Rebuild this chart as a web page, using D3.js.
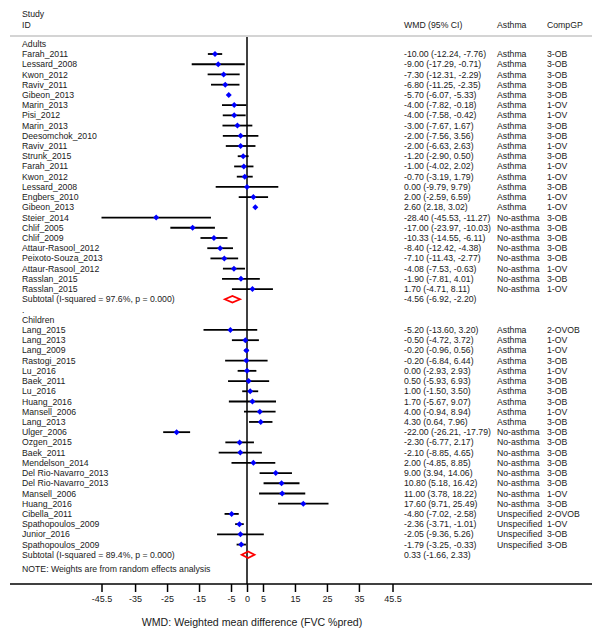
<!DOCTYPE html>
<html>
<head>
<meta charset="utf-8">
<script src="https://cdn.jsdelivr.net/npm/d3@7"></script>
<style>
  body { margin: 0; background: #fff; }
  svg { font-family: "Liberation Sans", Arial, Helvetica, sans-serif; }
  text { fill: #1a1a1a; font-size: 8.7px; }
</style>
</head>
<body>
<div id="root"></div>
<script>
// adults
const adultStudies = ['Farah_2011', 'Lessard_2008', 'Kwon_2012', 'Raviv_2011', 'Gibeon_2013', 'Marin_2013', 'Pisi_2012', 'Marin_2013', 'Deesomchok_2010', 'Raviv_2011', 'Strunk_2015', 'Farah_2011', 'Kwon_2012', 'Lessard_2008', 'Engbers_2010', 'Gibeon_2013', 'Steier_2014', 'Chlif_2005', 'Chlif_2009', 'Attaur-Rasool_2012', 'Peixoto-Souza_2013', 'Attaur-Rasool_2012', 'Rasslan_2015', 'Rasslan_2015'];
const adultWmd = [-10.00, -9.00, -7.30, -6.80, -5.70, -4.00, -4.00, -3.00, -2.00, -2.00, -1.20, -1.00, -0.70, 0.00, 2.00, 2.60, -28.40, -17.00, -10.33, -8.40, -7.10, -4.08, -1.90, 1.70];
const adultLo = [-12.24, -17.29, -12.31, -11.25, -6.07, -7.82, -7.58, -7.67, -7.56, -6.63, -2.90, -4.02, -3.19, -9.79, -2.59, 2.18, -45.53, -23.97, -14.55, -12.42, -11.43, -7.53, -7.81, -4.71];
const adultHi = [-7.76, -0.71, -2.29, -2.35, -5.33, -0.18, -0.42, 1.67, 3.56, 2.63, 0.50, 2.02, 1.79, 9.79, 6.59, 3.02, -11.27, -10.03, -6.11, -4.38, -2.77, -0.63, 4.01, 8.11];
const adultAsthma = ['Asthma', 'Asthma', 'Asthma', 'Asthma', 'Asthma', 'Asthma', 'Asthma', 'Asthma', 'Asthma', 'Asthma', 'Asthma', 'Asthma', 'Asthma', 'Asthma', 'Asthma', 'Asthma', 'No-asthma', 'No-asthma', 'No-asthma', 'No-asthma', 'No-asthma', 'No-asthma', 'No-asthma', 'No-asthma'];
const adultGroup = ['3-OB', '3-OB', '3-OB', '3-OB', '3-OB', '1-OV', '1-OV', '3-OB', '3-OB', '1-OV', '3-OB', '1-OV', '1-OV', '3-OB', '1-OV', '1-OV', '3-OB', '3-OB', '3-OB', '3-OB', '3-OB', '1-OV', '3-OB', '1-OV'];

// children
const childStudies = ['Lang_2015', 'Lang_2013', 'Lang_2009', 'Rastogi_2015', 'Lu_2016', 'Baek_2011', 'Lu_2016', 'Huang_2016', 'Mansell_2006', 'Lang_2013', 'Ulger_2006', 'Ozgen_2015', 'Baek_2011', 'Mendelson_2014', 'Del Rio-Navarro_2013', 'Del Rio-Navarro_2013', 'Mansell_2006', 'Huang_2016', 'Cibella_2011', 'Spathopoulos_2009', 'Junior_2016', 'Spathopoulos_2009'];
const childWmd = [-5.20, -0.50, -0.20, -0.20, 0.00, 0.50, 1.00, 1.70, 4.00, 4.30, -22.00, -2.30, -2.10, 2.00, 9.00, 10.80, 11.00, 17.60, -4.80, -2.36, -2.05, -1.79];
const childLo = [-13.60, -4.72, -0.96, -6.84, -2.93, -5.93, -1.50, -5.67, -0.94, 0.64, -26.21, -6.77, -8.85, -4.85, 3.94, 5.18, 3.78, 9.71, -7.02, -3.71, -9.36, -3.25];
const childHi = [3.20, 3.72, 0.56, 6.44, 2.93, 6.93, 3.50, 9.07, 8.94, 7.96, -17.79, 2.17, 4.65, 8.85, 14.06, 16.42, 18.22, 25.49, -2.58, -1.01, 5.26, -0.33];
const childAsthma = ['Asthma', 'Asthma', 'Asthma', 'Asthma', 'Asthma', 'Asthma', 'Asthma', 'Asthma', 'Asthma', 'Asthma', 'No-asthma', 'No-asthma', 'No-asthma', 'No-asthma', 'No-asthma', 'No-asthma', 'No-asthma', 'No-asthma', 'Unspecified', 'Unspecified', 'Unspecified', 'Unspecified'];
const childGroup = ['2-OVOB', '1-OV', '1-OV', '3-OB', '1-OV', '3-OB', '3-OB', '3-OB', '1-OV', '3-OB', '3-OB', '3-OB', '3-OB', '3-OB', '3-OB', '3-OB', '1-OV', '3-OB', '2-OVOB', '1-OV', '3-OB', '3-OB'];

// subtotals: adults, children
const subLabels = ['Subtotal  (I-squared = 97.6%, p = 0.000)', 'Subtotal  (I-squared = 89.4%, p = 0.000)'];
const subWmd = [-4.56, 0.33];
const subLo = [-6.92, -1.66];
const subHi = [-2.20, 2.33];

const tickValues = [-45.5, -35, -25, -15, -5, 0, 5, 15, 25, 35, 45.5];

const W = 602, H = 637;
const svg = d3.select('#root').append('svg').attr('width', W).attr('height', H);

// build rows list
let rows = [];
rows.push({ type: 'head', label: 'Adults' });
adultStudies.forEach((s, i) => rows.push({ type: 'study', label: s, est: adultWmd[i], lo: adultLo[i], hi: adultHi[i], a: adultAsthma[i], g: adultGroup[i] }));
rows.push({ type: 'sub', label: subLabels[0], est: subWmd[0], lo: subLo[0], hi: subHi[0] });
rows.push({ type: 'head', label: '.' });
rows.push({ type: 'head', label: 'Children' });
childStudies.forEach((s, i) => rows.push({ type: 'study', label: s, est: childWmd[i], lo: childLo[i], hi: childHi[i], a: childAsthma[i], g: childGroup[i] }));
rows.push({ type: 'sub', label: subLabels[1], est: subWmd[1], lo: subLo[1], hi: subHi[1] });
rows.forEach((r, i) => r.i = i);

const x = d3.scaleLinear().domain([-45.5, 45.5]).range([101.5, 392.5]);
const y = d3.scaleLinear().domain([0, rows.length - 1]).range([43.8, 43.8 + (rows.length - 1) * 10.22]);
// plain hyphen for negatives, as in the original
const loc = d3.formatLocale({ decimal: '.', thousands: ',', grouping: [3], currency: ['', ''], minus: '-' });
const fmt = loc.format('.2f');

const colCI = 404, colA = 497, colG = 547, colL = 22;

// header
svg.append('text').attr('x', colL).attr('y', 17).text('Study');
svg.append('text').attr('x', colL).attr('y', 27.5).text('ID');
svg.append('text').attr('x', colCI).attr('y', 27.5).text('WMD (95% CI)');
svg.append('text').attr('x', colA).attr('y', 27.5).text('Asthma');
svg.append('text').attr('x', colG).attr('y', 27.5).text('CompGP');
svg.append('line').attr('x1', 10).attr('x2', 592).attr('y1', 36).attr('y2', 36)
  .attr('stroke', '#aaa').attr('stroke-width', 1.2);

// null line
svg.append('line').attr('x1', x(0)).attr('x2', x(0)).attr('y1', 37).attr('y2', 584)
  .attr('stroke', '#000').attr('stroke-width', 1.5);

// labels
svg.selectAll('text.lab').data(rows).enter().append('text')
  .attr('class', 'lab')
  .attr('x', colL)
  .attr('y', d => y(d.i))
  .attr('dy', '0.35em')
  .text(d => d.label);

const est = rows.filter(d => d.type !== 'head');
svg.selectAll('text.ci').data(est).enter().append('text')
  .attr('x', colCI).attr('y', d => y(d.i)).attr('dy', '0.35em')
  .text(d => `${fmt(d.est)} (${fmt(d.lo)}, ${fmt(d.hi)})`);

const studies = rows.filter(d => d.type === 'study');
svg.selectAll('text.as').data(studies).enter().append('text')
  .attr('x', colA).attr('y', d => y(d.i)).attr('dy', '0.35em').text(d => d.a);
svg.selectAll('text.gp').data(studies).enter().append('text')
  .attr('x', colG).attr('y', d => y(d.i)).attr('dy', '0.35em').text(d => d.g);

// CI lines
svg.selectAll('line.ci').data(studies).enter().append('line')
  .attr('x1', d => x(Math.max(d.lo, -45.5))).attr('x2', d => x(Math.min(d.hi, 45.5)))
  .attr('y1', d => y(d.i)).attr('y2', d => y(d.i))
  .attr('stroke', '#000').attr('stroke-width', 1.8);

// point estimates
svg.selectAll('path.pt').data(studies).enter().append('path')
  .attr('d', d => {
    const cx = x(d.est), cy = y(d.i), r = 3;
    return `M${cx},${cy - r}L${cx + r},${cy}L${cx},${cy + r}L${cx - r},${cy}Z`;
  })
  .attr('fill', '#0000ff');

// subtotal diamonds
const subs = rows.filter(d => d.type === 'sub');
svg.selectAll('path.sub').data(subs).enter().append('path')
  .attr('d', d => {
    const cy = y(d.i), h = 3.3;
    return `M${x(d.lo)},${cy}L${x(d.est)},${cy - h}L${x(d.hi)},${cy}L${x(d.est)},${cy + h}Z`;
  })
  .attr('fill', 'none').attr('stroke', '#ff0000').attr('stroke-width', 1.8);

// note
svg.append('text').attr('x', colL).attr('y', 569).attr('dy', '0.35em')
  .text('NOTE: Weights are from random effects analysis');

// axis
svg.append('line').attr('x1', 10).attr('x2', 592).attr('y1', 584).attr('y2', 584)
  .attr('stroke', '#000').attr('stroke-width', 1.5);
const axis = d3.axisBottom(x).tickValues(tickValues).tickSize(8).tickPadding(4)
  .tickFormat(d => String(d));
const ag = svg.append('g').attr('transform', 'translate(0,584)').call(axis);
ag.select('.domain').remove();
ag.selectAll('.tick line').attr('stroke', '#000').attr('stroke-width', 1.5);
ag.selectAll('.tick text').style('font-size', '9px').style('fill', '#1a1a1a')
  .style('font-family', '"Liberation Sans", Arial, sans-serif');

svg.append('text').attr('x', 252).attr('y', 626).attr('text-anchor', 'middle')
  .style('font-size', '10.6px')
  .text('WMD: Weighted mean difference (FVC %pred)');
</script>
</body>
</html>
